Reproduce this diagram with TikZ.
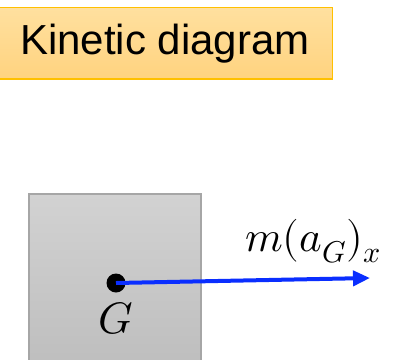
\documentclass[tikz,border=0pt]{standalone}
\usepackage{amsmath}
\usepackage{fontspec}
\usepackage{unicode-math}
\setsansfont{Liberation Sans}
\setmathfont{Latin Modern Math}
\usepackage{xcolor}
\usetikzlibrary{arrows.meta,positioning}
\definecolor{kdFillTop}{HTML}{FFE09F}
\definecolor{kdFillBot}{HTML}{FFD37F}
\definecolor{kdEdge}{HTML}{FFC000}
\definecolor{kdBlock}{HTML}{D2D2D2}
\definecolor{kdBlockBot}{HTML}{BEBEBE}
\definecolor{kdBlockEdge}{HTML}{A6A6A6}
\definecolor{kdBlue}{HTML}{0A2EFF}

\begin{document}
\begin{tikzpicture}[x=1pt,y=-1pt]
    \useasboundingbox (0,0) rectangle (403,359);
    % title box
    \draw[kdEdge,line width=1.5pt,top color=kdFillTop,bottom color=kdFillBot] (-5,7.5) rectangle (332.5,79);
    \node[font=\sffamily\fontsize{42}{50}\selectfont] (title) at (165,44) {Kinetic diagram};
    % block
    \draw[kdBlockEdge,line width=2pt,top color=kdBlock,bottom color=kdBlockBot] (29,194) rectangle (201,365);
    \node[circle,fill=black,inner sep=0pt,minimum size=19pt] (G) at (116,283) {};
    \node[font=\fontsize{44}{50}\selectfont] (Glabel) at (116,318) {$G$};
    % m a_G
    \coordinate (tip) at (370,278);
    \draw[kdBlue,line width=4pt,-{Triangle[length=17pt,width=15pt]}] (G.center) -- (tip);
    \node[font=\fontsize{43}{48}\selectfont] (mag) at (313,241) {$m(a_G)_x$};
\end{tikzpicture}
\end{document}
